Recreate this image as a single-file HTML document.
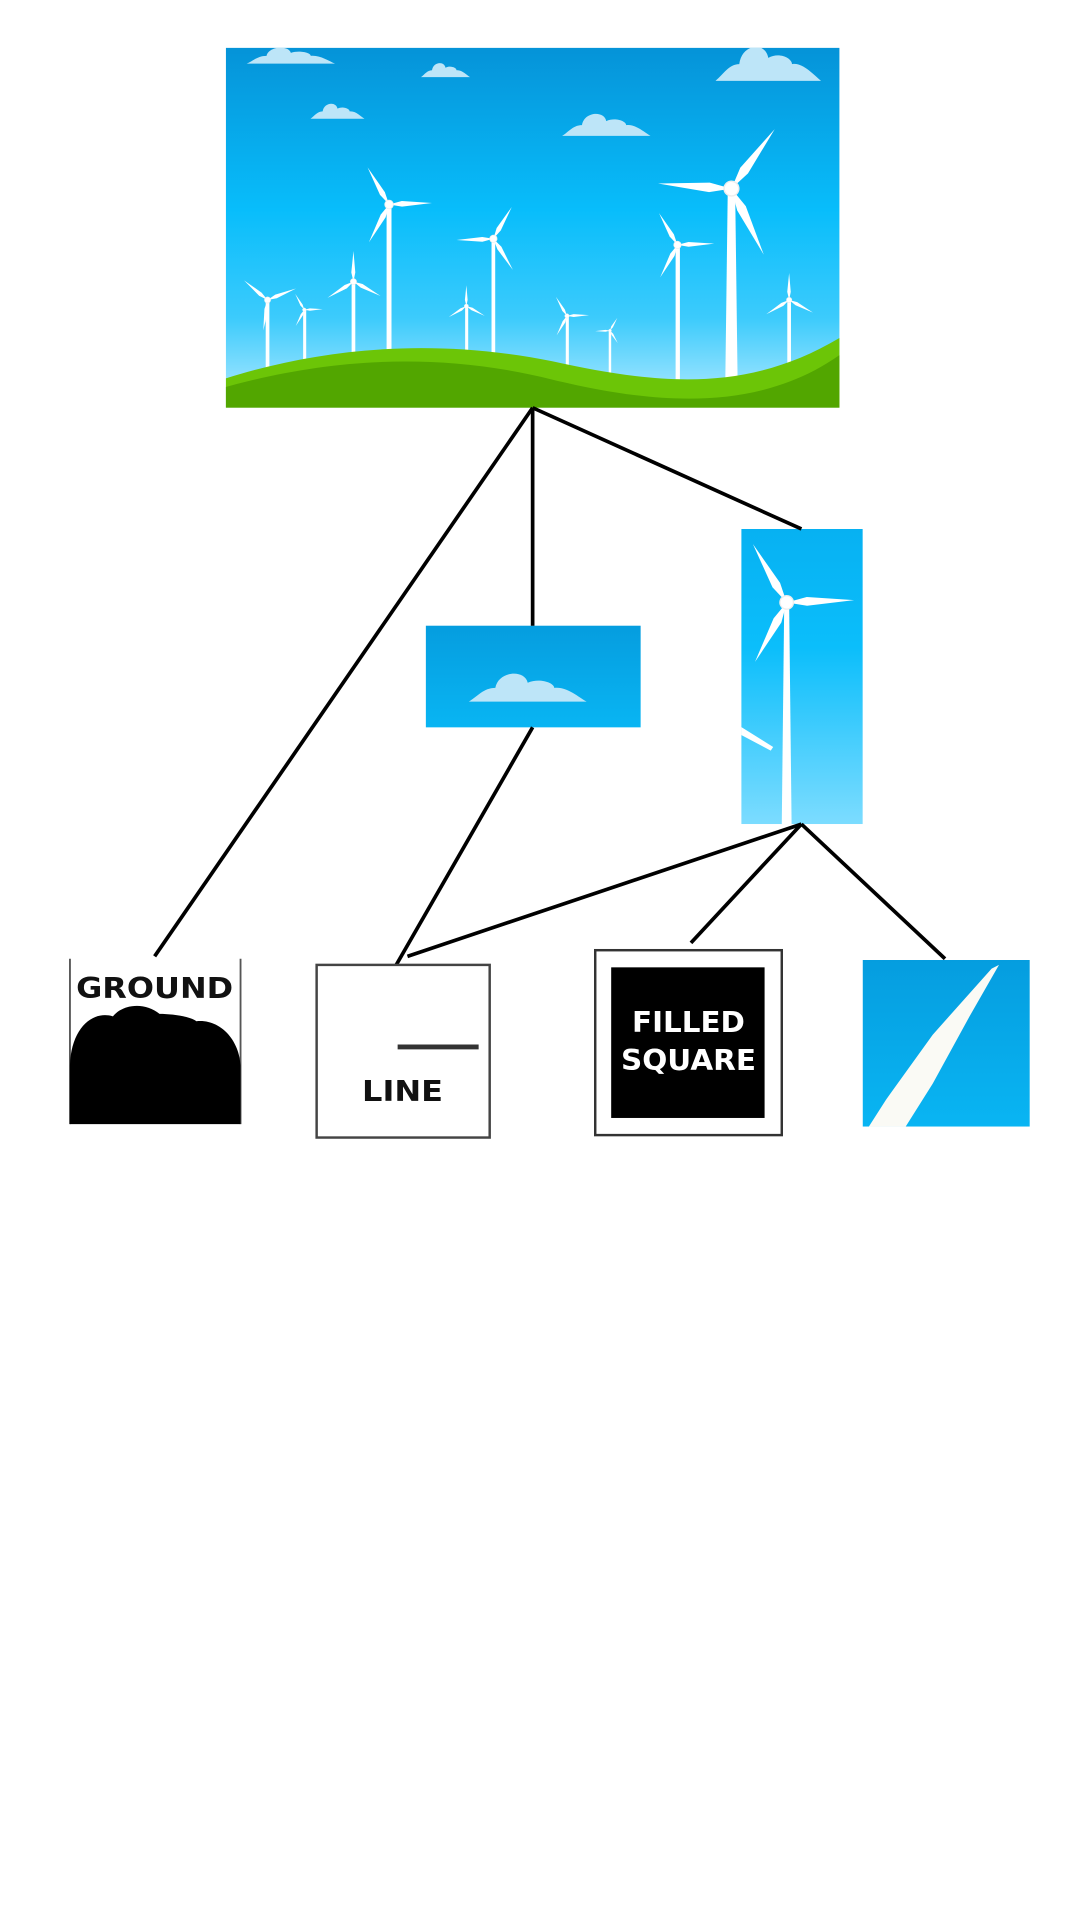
<!DOCTYPE html>
<html><head><meta charset="utf-8"><style>html,body{margin:0;padding:0;background:#fff}svg{display:block}</style></head>
<body>
<svg width="1080" height="1920" viewBox="0 0 880 1568" preserveAspectRatio="none" xmlns="http://www.w3.org/2000/svg">
<defs>
<linearGradient id="sky" x1="0" y1="0" x2="0" y2="1">
<stop offset="0" stop-color="#0593d8"/><stop offset="0.45" stop-color="#08bdfb"/><stop offset="0.75" stop-color="#3ccbfc"/><stop offset="1" stop-color="#b4eaff"/></linearGradient>
<linearGradient id="sky2" x1="0" y1="0" x2="0" y2="1">
<stop offset="0" stop-color="#07b1f2"/><stop offset="0.4" stop-color="#0bbefb"/><stop offset="1" stop-color="#7cdcff"/></linearGradient>
<linearGradient id="sky3" x1="0" y1="0" x2="0" y2="1">
<stop offset="0" stop-color="#059ddf"/><stop offset="1" stop-color="#09b5f3"/></linearGradient>
<g id="rot">
<polygon points="0,0 -0.07,-0.3 0,-1 0.06,-0.3" fill="#fff"/>
<polygon points="0,0 -0.07,-0.3 0,-1 0.06,-0.3" fill="#fff" transform="rotate(118)"/>
<polygon points="0,0 -0.07,-0.3 0,-1 0.06,-0.3" fill="#fff" transform="rotate(238)"/>
<circle r="0.1" fill="#fff" stroke="#eee" stroke-width="0.02"/>
</g>
<g id="cloud"><path d="M-1,0 C-0.85,-0.15 -0.75,-0.4 -0.55,-0.4 C-0.5,-0.9 -0.05,-0.95 0,-0.55 C0.2,-0.7 0.45,-0.55 0.45,-0.4 C0.65,-0.45 0.85,-0.15 1,0 Z" fill="#bde5f8"/></g>
<clipPath id="c1"><rect x="184" y="39" width="500" height="294"/></clipPath>
<clipPath id="c2"><rect x="604" y="432" width="99" height="241"/></clipPath>
</defs>
<g clip-path="url(#c1)">
<rect x="184" y="39" width="500" height="294" fill="url(#sky)"/>
<use href="#cloud" transform="translate(237,52) scale(36,16)"/>
<use href="#cloud" transform="translate(363,63) scale(20,14)"/>
<use href="#cloud" transform="translate(275,97) scale(22,15)"/>
<use href="#cloud" transform="translate(494,111) scale(36,22)"/>
<use href="#cloud" transform="translate(626,66) scale(43,34)"/>
<g fill="#fff">
<rect x="216.5" y="245" width="3" height="60"/><use href="#rot" transform="translate(218,245) rotate(-50) scale(25)"/>
<rect x="247" y="253" width="2.5" height="45"/><use href="#rot" transform="translate(248,253) rotate(-30) scale(15)"/>
<rect x="286.5" y="230" width="3" height="62"/><use href="#rot" transform="translate(288,230) scale(25)"/>
<rect x="315" y="167" width="4" height="120"/><use href="#rot" transform="translate(317,167) rotate(-30) scale(35)"/>
<rect x="379" y="250" width="2.5" height="38"/><use href="#rot" transform="translate(380,250) scale(17)"/>
<rect x="400.5" y="195" width="3" height="95"/><use href="#rot" transform="translate(402,195) rotate(30) scale(30)"/>
<rect x="461" y="258" width="2.5" height="42"/><use href="#rot" transform="translate(462,258) rotate(-30) scale(18)"/>
<rect x="496" y="270" width="2" height="36"/><use href="#rot" transform="translate(497,270) rotate(30) scale(12)"/>
<rect x="550.5" y="200" width="3.5" height="112"/><use href="#rot" transform="translate(552,200) rotate(-30) scale(30)"/>
<polygon points="593,154 599,154 601,310 591,310"/><use href="#rot" transform="translate(596,154) rotate(36) scale(60)"/>
<rect x="641.5" y="245" width="3" height="55"/><use href="#rot" transform="translate(643,245) scale(22)"/>
</g>
<path d="M184,309 C260,285 350,275 450,295 C540,315 610,320 684,276 L684,333 L184,333 Z" fill="#6cc507"/>
<path d="M184,316 C260,295 350,285 450,310 C540,332 620,335 684,290 L684,333 L184,333 Z" fill="#52a600"/>
</g>
<rect x="347" y="511" width="175" height="83" fill="url(#sky3)"/>
<use href="#cloud" transform="translate(430,573) scale(48,28)"/>
<g clip-path="url(#c2)">
<rect x="604" y="432" width="99" height="241" fill="url(#sky2)"/>
<polygon points="639,492 643,492 645,673 637,673" fill="#fff"/>
<use href="#rot" transform="translate(641,492) rotate(-30) scale(55)"/>
<polygon points="598,590 630,610 628,613 596,596" fill="#fff"/>
</g>
<g stroke="#000" stroke-width="3" fill="none">
<line x1="434" y1="333" x2="126" y2="781"/>
<line x1="434" y1="333" x2="434" y2="511"/>
<line x1="434" y1="333" x2="653" y2="432"/>
<line x1="434" y1="594" x2="320" y2="793"/>
<line x1="653" y1="673" x2="332" y2="781"/>
<line x1="653" y1="673" x2="563" y2="770"/>
<line x1="653" y1="673" x2="770" y2="783"/>
</g>
<g font-family="'DejaVu Sans','Liberation Sans',sans-serif" font-weight="bold">
<line x1="57" y1="783" x2="57" y2="918" stroke="#555" stroke-width="1.5"/>
<line x1="196" y1="783" x2="196" y2="918" stroke="#555" stroke-width="1.5"/>
<text x="126" y="815" font-size="23" text-anchor="middle" fill="#111" textLength="128" lengthAdjust="spacingAndGlyphs">GROUND</text>
<path d="M57,918 L57,870 C58,840 75,825 92,830 C100,820 118,818 130,828 C140,828 155,830 160,834 C180,832 195,850 196,870 L196,918 Z" fill="#000"/>
<rect x="258" y="788" width="141" height="141" fill="#fff" stroke="#444" stroke-width="2"/>
<line x1="324" y1="855" x2="390" y2="855" stroke="#333" stroke-width="4"/>
<text x="328" y="899" font-size="23" text-anchor="middle" fill="#111" textLength="66" lengthAdjust="spacingAndGlyphs">LINE</text>
<rect x="485" y="776" width="152" height="151" fill="#fff" stroke="#333" stroke-width="2"/>
<rect x="498" y="790" width="125" height="123" fill="#000"/>
<text x="561" y="843" font-size="23" text-anchor="middle" fill="#fff" textLength="92" lengthAdjust="spacingAndGlyphs">FILLED</text>
<text x="561" y="874" font-size="23" text-anchor="middle" fill="#fff" textLength="110" lengthAdjust="spacingAndGlyphs">SQUARE</text>
<rect x="703" y="784" width="136" height="136" fill="url(#sky3)"/>
<polygon points="808,791 814,788 790,830 760,885 738,920 708,920 722,898 760,845" fill="#fafaf5"/>
</g>
</svg>
</body></html>
